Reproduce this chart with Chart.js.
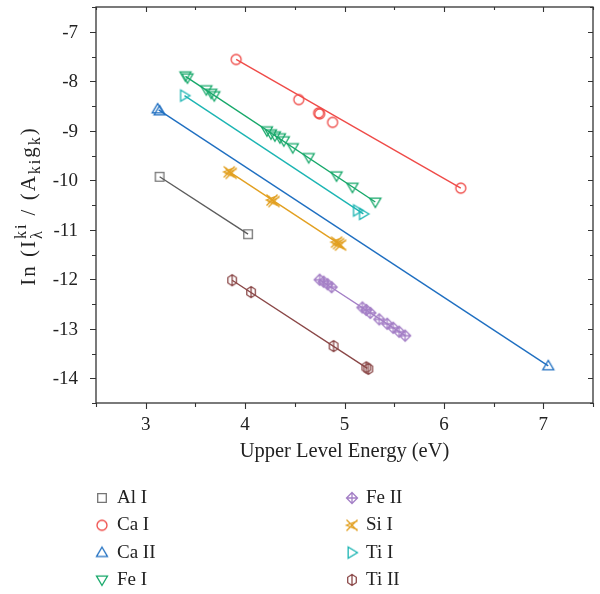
<!DOCTYPE html>
<html lang="en">

<head>
    <meta charset="UTF-8">
    <script src="https://cdn.jsdelivr.net/npm/chart.js@4.4.1/dist/chart.umd.min.js"></script>
    <title>Boltzmann plot</title>
    <style>
        body { margin: 0; background: #fff; }
        #myChart { display: block; }
    </style>
</head>

<body>
    <canvas id="myChart" width="600" height="594"></canvas>

    <script>
// values (upper level energy in eV, ln(I/Ag))
const alX = [3.14, 4.03];
const alY = [-9.93, -11.09];
const caIX = [3.91, 4.54, 4.74, 4.75, 4.88, 6.17];
const caIY = [-7.56, -8.37, -8.64, -8.66, -8.83, -10.16];
const caIIX = [3.12, 3.14, 7.05];
const caIIY = [-8.56, -8.60, -13.75];
const feIX = [3.40, 3.42, 3.61, 3.66, 3.69, 4.22, 4.26, 4.30, 4.35, 4.39, 4.48, 4.64, 4.92, 5.08, 5.31];
const feIY = [-7.89, -7.93, -8.17, -8.24, -8.29, -9.00, -9.06, -9.10, -9.14, -9.20, -9.34, -9.54, -9.91, -10.14, -10.44];
const feIIX = [4.75, 4.79, 4.83, 4.87, 5.18, 5.22, 5.26, 5.35, 5.43, 5.49, 5.55, 5.61];
const feIIY = [-12.01, -12.05, -12.10, -12.16, -12.57, -12.62, -12.68, -12.81, -12.90, -12.98, -13.06, -13.14];
const siX = [3.84, 3.86, 4.27, 4.29, 4.92, 4.94, 4.96];
const siY = [-9.83, -9.86, -10.40, -10.43, -11.25, -11.28, -11.31];
const tiIX = [3.39, 5.13, 5.19];
const tiIY = [-8.29, -10.61, -10.68];
const tiIIX = [3.87, 4.06, 4.89, 5.22, 5.24];
const tiIIY = [-12.02, -12.26, -13.35, -13.78, -13.81];

// fitted lines, end points
const alFitX = [3.14, 4.03], alFitY = [-9.93, -11.09];
const caIFitX = [3.91, 6.17], caIFitY = [-7.56, -10.16];
const caIIFitX = [3.13, 7.05], caIIFitY = [-8.58, -13.75];
const feIFitX = [3.40, 5.31], feIFitY = [-7.90, -10.44];
const feIIFitX = [4.75, 5.61], feIIFitY = [-12.01, -13.14];
const siFitX = [3.85, 4.95], siFitY = [-9.84, -11.29];
const tiIFitX = [3.39, 5.19], tiIFitY = [-8.29, -10.68];
const tiIIFitX = [3.87, 5.23], tiIIFitY = [-12.02, -13.80];

const xTicks = [3, 4, 5, 6, 7];
const yTicks = [-7, -8, -9, -10, -11, -12, -13, -14];

const FONT = "'Liberation Serif', 'DejaVu Serif', serif";

function pts(xs, ys) {
    return xs.map((x, i) => ({ x: x, y: ys[i] }));
}

// little canvases used as point styles (chart and legend)
function makeMarker(kind, color) {
    const r = 5.5, size = 16, c = size / 2;
    const cv = document.createElement('canvas');
    cv.width = size; cv.height = size;
    const ctx = cv.getContext('2d');
    ctx.strokeStyle = color;
    ctx.lineWidth = 1.3;
    ctx.beginPath();
    if (kind == 'square') {
        ctx.rect(c - 4.3, c - 4.3, 8.6, 8.6);
    } else if (kind == 'circle') {
        ctx.arc(c, c, 5, 0, Math.PI * 2);
    } else if (kind == 'triUp') {
        ctx.moveTo(c, c - r); ctx.lineTo(c + r, c + r * 0.7); ctx.lineTo(c - r, c + r * 0.7); ctx.closePath();
    } else if (kind == 'triDown') {
        ctx.moveTo(c, c + r); ctx.lineTo(c + r, c - r * 0.7); ctx.lineTo(c - r, c - r * 0.7); ctx.closePath();
    } else if (kind == 'triRight') {
        ctx.moveTo(c + r, c); ctx.lineTo(c - r * 0.7, c - r); ctx.lineTo(c - r * 0.7, c + r); ctx.closePath();
    } else if (kind == 'diamondPlus') {
        ctx.moveTo(c, c - r); ctx.lineTo(c + r, c); ctx.lineTo(c, c + r); ctx.lineTo(c - r, c); ctx.closePath();
        ctx.moveTo(c, c - r); ctx.lineTo(c, c + r);
        ctx.moveTo(c - r, c); ctx.lineTo(c + r, c);
    } else if (kind == 'bowtie') {
        ctx.moveTo(c - r, c - r); ctx.lineTo(c + r, c + r);
        ctx.moveTo(c - r, c + r); ctx.lineTo(c + r, c - r);
        ctx.moveTo(c + r, c - r * 0.8); ctx.lineTo(c - r, c); ctx.lineTo(c + r, c + r * 0.8);
    } else if (kind == 'hexLine') {
        for (let k = 0; k < 6; k++) {
            const a = -Math.PI / 2 + k * Math.PI / 3;
            const px = c + r * 0.9 * Math.cos(a), py = c + r * Math.sin(a);
            if (k == 0) ctx.moveTo(px, py); else ctx.lineTo(px, py);
        }
        ctx.closePath();
        ctx.moveTo(c, c - r); ctx.lineTo(c, c + r);
    }
    ctx.stroke();
    return cv;
}

const series = [
    { name: 'Al I', data: pts(alX, alY), fit: pts(alFitX, alFitY), color: '#757575', line: '#5c5c5c', kind: 'square' },
    { name: 'Ca I', data: pts(caIX, caIY), fit: pts(caIFitX, caIFitY), color: '#ef4b48', line: '#ef4b48', kind: 'circle' },
    { name: 'Ca II', data: pts(caIIX, caIIY), fit: pts(caIIFitX, caIIFitY), color: '#1f6fc1', line: '#1f6fc1', kind: 'triUp' },
    { name: 'Fe I', data: pts(feIX, feIY), fit: pts(feIFitX, feIFitY), color: '#17a86a', line: '#17a86a', kind: 'triDown' },
    { name: 'Fe II', data: pts(feIIX, feIIY), fit: pts(feIIFitX, feIIFitY), color: '#a47fc6', line: '#a47fc6', kind: 'diamondPlus' },
    { name: 'Si I', data: pts(siX, siY), fit: pts(siFitX, siFitY), color: '#e2a021', line: '#e2a021', kind: 'bowtie' },
    { name: 'Ti I', data: pts(tiIX, tiIY), fit: pts(tiIFitX, tiIFitY), color: '#1cb5b3', line: '#1cb5b3', kind: 'triRight' },
    { name: 'Ti II', data: pts(tiIIX, tiIIY), fit: pts(tiIIFitX, tiIIFitY), color: '#8a4747', line: '#8a4747', kind: 'hexLine' }
];
series.forEach(s => s.marker = makeMarker(s.kind, s.color));

const datasets = [];
series.forEach(s => {
    datasets.push({ label: s.name + ' fit', data: s.fit, showLine: true, borderColor: s.line, borderWidth: 1.4, pointRadius: 0 });
    datasets.push({ label: s.name, data: s.data, showLine: false, pointStyle: s.marker, pointRadius: 6 });
});

// frame, ticks, tick labels, axis titles and legend
const decor = {
    id: 'decor',
    afterDraw(chart) {
        const ctx = chart.ctx, a = chart.chartArea;
        const xs = chart.scales.x, ys = chart.scales.y;
        ctx.save();
        ctx.strokeStyle = '#333';
        ctx.lineWidth = 1.3;
        ctx.strokeRect(a.left, a.top, a.right - a.left, a.bottom - a.top);
        ctx.lineWidth = 1.1;
        ctx.beginPath();
        for (let v = 2.5; v <= 7.5001; v += 0.5) {
            const px = Math.round(xs.getPixelForValue(v)) + 0.5;
            const L = Number.isInteger(v) ? 6 : 4;
            ctx.moveTo(px, a.bottom); ctx.lineTo(px, a.bottom + L);
            ctx.moveTo(px, a.top); ctx.lineTo(px, a.top + L - 1);
        }
        for (let v = -14.5; v <= -6.4999; v += 0.5) {
            const py = Math.round(ys.getPixelForValue(v)) + 0.5;
            const L = Number.isInteger(v) ? 6 : 4;
            ctx.moveTo(a.left, py); ctx.lineTo(a.left - L, py);
            ctx.moveTo(a.right, py); ctx.lineTo(a.right - L + 1, py);
        }
        ctx.stroke();

        ctx.fillStyle = '#222';
        ctx.font = '19px ' + FONT;
        ctx.textBaseline = 'middle';
        ctx.textAlign = 'center';
        xTicks.forEach(v => ctx.fillText(String(v), xs.getPixelForValue(v), a.bottom + 22));
        ctx.textAlign = 'right';
        yTicks.forEach(v => ctx.fillText(String(v), a.left - 18, ys.getPixelForValue(v) + 1));

        // x title
        ctx.font = '20.5px ' + FONT;
        ctx.textAlign = 'center';
        ctx.fillText('Upper Level Energy (eV)', (a.left + a.right) / 2, 452);

        // y title with sub/superscripts
        const parts = [
            { t: 'In (I', f: 21, dy: 0 },
            { t: 'ki', f: 16, dy: -9, stack: 'λ' },
            { t: ' / (A', f: 21, dy: 0 },
            { t: 'ki', f: 16, dy: 5 },
            { t: 'g', f: 21, dy: 0 },
            { t: 'k', f: 16, dy: 5 },
            { t: ')', f: 21, dy: 0 }
        ];
        ctx.letterSpacing = '2px';
        let total = 0;
        parts.forEach(p => {
            ctx.font = p.f + 'px ' + FONT;
            let w = ctx.measureText(p.t).width;
            if (p.stack) w = Math.max(w, ctx.measureText(p.stack).width);
            p.w = w; total += w;
        });
        ctx.translate(29, 206);
        ctx.rotate(-Math.PI / 2);
        ctx.textAlign = 'left';
        ctx.textBaseline = 'alphabetic';
        let cx = -total / 2;
        parts.forEach(p => {
            ctx.font = p.f + 'px ' + FONT;
            ctx.fillText(p.t, cx, 6 + p.dy);
            if (p.stack) ctx.fillText(p.stack, cx, 6 + 7);
            cx += p.w;
        });
        ctx.setTransform(1, 0, 0, 1, 0, 0);
        ctx.letterSpacing = '0px';

        // legend in two columns
        ctx.font = '19px ' + FONT;
        ctx.textAlign = 'left';
        ctx.textBaseline = 'middle';
        series.forEach((s, i) => {
            const col = Math.floor(i / 4), row = i % 4;
            const mx = col == 0 ? 102 : 352;
            const tx = col == 0 ? 117 : 366;
            const my = 498 + row * 27.3;
            ctx.drawImage(s.marker, mx - 8, my - 8);
            ctx.fillText(s.name, tx, my);
        });
        ctx.restore();
    }
};

const ctx = document.getElementById('myChart').getContext('2d');
const graph = new Chart(ctx, {
    type: 'scatter',
    data: { datasets: datasets },
    options: {
        responsive: false,
        animation: false,
        layout: { padding: { left: 0, right: 7, top: 3, bottom: 0 } },
        plugins: { legend: { display: false }, tooltip: { enabled: false } },
        scales: {
            x: {
                type: 'linear', min: 2.5, max: 7.5,
                grid: { display: false, drawTicks: false },
                border: { display: false },
                ticks: { display: false, stepSize: 0.5 },
                afterFit: s => { s.height = 191; }
            },
            y: {
                type: 'linear', min: -14.5, max: -6.5,
                grid: { display: false, drawTicks: false },
                border: { display: false },
                ticks: { display: false, stepSize: 0.5 },
                afterFit: s => { s.width = 96; }
            }
        }
    },
    plugins: [decor]
});
    </script>
</body>

</html>
